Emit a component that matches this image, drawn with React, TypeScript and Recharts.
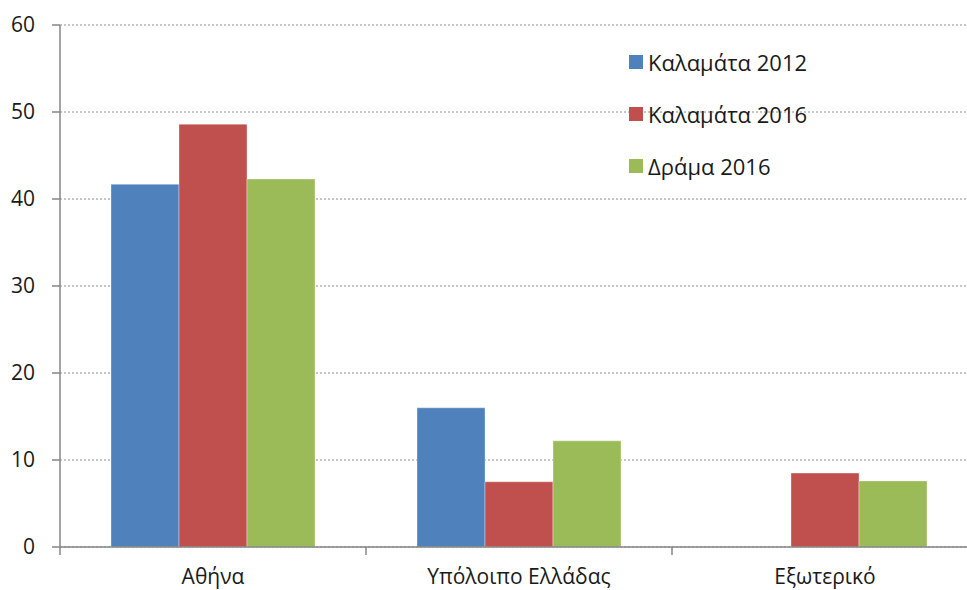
import React from 'react';
import { BarChart, Bar, XAxis, YAxis, CartesianGrid } from 'recharts';

const categories = ['Αθήνα', 'Υπόλοιπο Ελλάδας', 'Εξωτερικό'];
const kalamata2012 = [41.7, 16.0, 0];
const kalamata2016 = [48.6, 7.5, 8.5];
const drama2016 = [42.3, 12.2, 7.6];
const yTicks = [0, 10, 20, 30, 40, 50, 60];

const seriesInfo = [
  { key: 'k2012', name: 'Καλαμάτα 2012', color: '#4F81BD' },
  { key: 'k2016', name: 'Καλαμάτα 2016', color: '#C0504D' },
  { key: 'd2016', name: 'Δράμα 2016', color: '#9BBB59' },
];

const data = categories.map((c, i) => ({
  name: c,
  k2012: kalamata2012[i],
  k2016: kalamata2016[i],
  d2016: drama2016[i],
}));

const FONT = '"Open Sans", "Noto Sans", sans-serif';
const AXIS = '#868686';
const TEXT = '#1a1a1a';

// category label in the middle, tick marks on the category boundaries
const XTick = (props: any) => {
  const { x, y, payload, index } = props;
  const band = 306;
  const left = x - band / 2;
  return (
    <g>
      <line x1={left} y1={y} x2={left} y2={y + 8} stroke={AXIS} strokeWidth={1.5} />
      {index === categories.length - 1 && (
        <line x1={left + band} y1={y} x2={left + band} y2={y + 8} stroke={AXIS} strokeWidth={1.5} />
      )}
      <text x={x} y={y + 37} textAnchor="middle" fill={TEXT} fontSize={21} fontFamily={FONT}>
        {payload.value}
      </text>
    </g>
  );
};

const LegendBox = () => (
  <div style={{ position: 'absolute', left: 629, top: 36, fontFamily: FONT, fontSize: 22, color: TEXT }}>
    {seriesInfo.map((s) => (
      <div key={s.key} style={{ display: 'flex', alignItems: 'center', height: 52 }}>
        <span style={{ width: 14, height: 14, background: s.color, marginRight: 5, display: 'inline-block' }} />
        <span>{s.name}</span>
      </div>
    ))}
  </div>
);

export default function App() {
  return (
    <div style={{ position: 'absolute', left: 0, top: 0, width: 967, height: 590, overflow: 'hidden', background: '#fff' }}>
      <BarChart
        width={980}
        height={590}
        data={data}
        margin={{ top: 25, right: 2, left: 0, bottom: 0 }}
        barCategoryGap={51}
        barGap={0}
      >
        <CartesianGrid vertical={false} stroke="#8c8c8c" strokeDasharray="2 2" />
        <XAxis
          dataKey="name"
          height={43}
          axisLine={{ stroke: AXIS, strokeWidth: 1.5 }}
          tickLine={false}
          tickSize={0}
          tickMargin={0}
          tick={<XTick />}
          interval={0}
        />
        <YAxis
          width={60}
          domain={[0, 60]}
          ticks={yTicks}
          interval={0}
          axisLine={{ stroke: AXIS, strokeWidth: 1.5 }}
          tickLine={{ stroke: AXIS, strokeWidth: 1.5 }}
          tickSize={8}
          tickMargin={17}
          tick={{ fill: TEXT, fontSize: 21, fontFamily: FONT }}
        />
        {seriesInfo.map((s) => (
          <Bar
            key={s.key}
            dataKey={s.key}
            name={s.name}
            fill={s.color}
            stroke="#ffffff"
            strokeOpacity={0.35}
            strokeWidth={1}
            isAnimationActive={false}
          />
        ))}
      </BarChart>
      <LegendBox />
    </div>
  );
}
